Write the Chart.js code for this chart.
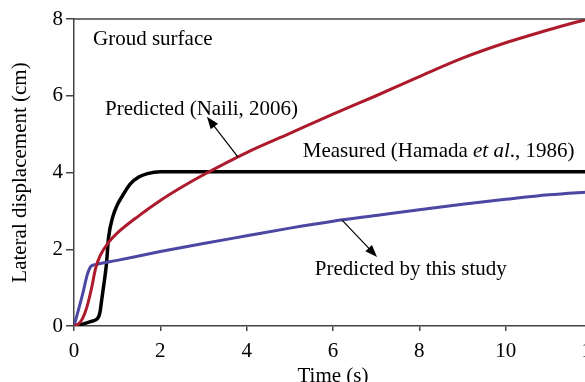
<!DOCTYPE html>
<html>
<head>
<meta charset="utf-8">
<script src="https://cdn.jsdelivr.net/npm/chart.js@4.4.1/dist/chart.umd.min.js"></script>
<style>
  html, body { margin: 0; padding: 0; background: #fff; overflow: hidden; }
  #wrap { width: 585px; height: 382px; overflow: hidden; position: relative; }
  canvas { display: block; }
</style>
</head>
<body>
<div id="wrap"><canvas id="c" width="640" height="390"></canvas></div>
<script>
/* ── DATA ─────────────────────────────────────────────────────────────── */
const measuredT = [0, 0.2, 0.4, 0.55, 0.6, 0.65, 0.7, 0.75, 0.8, 0.9, 1.0, 1.1, 1.3, 1.5, 1.7, 2.0, 4, 6, 8, 10, 12];
const measuredY = [0, 0.05, 0.12, 0.2, 0.35, 0.75, 1.15, 1.6, 2.3, 2.85, 3.15, 3.35, 3.7, 3.88, 3.97, 4.02, 4.02, 4.02, 4.02, 4.02, 4.02];

const nailiT = [0, 0.1, 0.2, 0.3, 0.4, 0.5, 0.6, 0.8, 1.0, 1.5, 2.0, 2.5, 3.0, 4, 5, 6, 7, 8, 9, 10, 11, 12];
const nailiY = [0, 0.05, 0.2, 0.5, 0.95, 1.5, 1.82, 2.18, 2.42, 2.87, 3.27, 3.62, 3.94, 4.52, 5.02, 5.52, 6.0, 6.5, 6.98, 7.38, 7.72, 8.03];

const studyT = [0, 0.2, 0.31, 0.39, 0.5, 1, 2, 3, 4, 5, 6, 7, 8, 9, 10, 11, 12];
const studyY = [0, 0.83, 1.35, 1.55, 1.6, 1.71, 1.94, 2.15, 2.35, 2.55, 2.73, 2.88, 3.03, 3.17, 3.3, 3.42, 3.5];

const xTicks = [0, 2, 4, 6, 8, 10, 12];
const yTicks = [0, 2, 4, 6, 8];

/* ── STYLE ────────────────────────────────────────────────────────────── */
const FONT = '"Liberation Serif", "Times New Roman", serif';
const FONT_SIZE = 21;
const AXIS_COLOR = "#444444";
const COLORS = { measured: "#000000", naili: "#ad1a2c", study: "#4b47a3" };

function pts(ts, ys) {
  return ts.map(function (t, i) { return { x: t, y: ys[i] }; });
}

/* ── ANNOTATIONS (data coordinates) ───────────────────────────────────── */
const NOTES = [
  { text: [["Groud surface", false]], x: 0.44, y: 7.32 },
  { text: [["Predicted (Naili, 2006)", false]], x: 0.72, y: 5.5 },
  { text: [["Measured (Hamada ", false], ["et al", true], ["., 1986)", false]], x: 5.3, y: 4.4 },
  { text: [["Predicted by this study", false]], x: 5.58, y: 1.33 },
];
const ARROWS = [
  { from: [3.80, 4.40], to: [3.08, 5.45] },
  { from: [6.21, 2.76], to: [7.02, 1.80] },
];

const annotationPlugin = {
  id: "notes",
  afterDraw(chart) {
    const { ctx, chartArea, scales: { x, y } } = chart;
    ctx.save();

    /* top frame line */
    ctx.strokeStyle = AXIS_COLOR;
    ctx.lineWidth = 1.5;
    ctx.beginPath();
    ctx.moveTo(chartArea.left, chartArea.top);
    ctx.lineTo(chartArea.right, chartArea.top);
    ctx.stroke();

    /* labels */
    ctx.fillStyle = "#000";
    ctx.textBaseline = "alphabetic";
    NOTES.forEach(function (n) {
      let px = x.getPixelForValue(n.x);
      const py = y.getPixelForValue(n.y);
      n.text.forEach(function (part) {
        ctx.font = (part[1] ? "italic " : "") + FONT_SIZE + "px " + FONT;
        ctx.fillText(part[0], px, py);
        px += ctx.measureText(part[0]).width;
      });
    });

    /* arrows */
    ctx.strokeStyle = "#000";
    ctx.fillStyle = "#000";
    ctx.lineWidth = 1.2;
    ARROWS.forEach(function (a) {
      const x0 = x.getPixelForValue(a.from[0]), y0 = y.getPixelForValue(a.from[1]);
      const x1 = x.getPixelForValue(a.to[0]), y1 = y.getPixelForValue(a.to[1]);
      const ang = Math.atan2(y1 - y0, x1 - x0);
      const len = 13, half = 0.36;
      ctx.beginPath();
      ctx.moveTo(x0, y0);
      ctx.lineTo(x1 - Math.cos(ang) * len * 0.8, y1 - Math.sin(ang) * len * 0.8);
      ctx.stroke();
      ctx.beginPath();
      ctx.moveTo(x1, y1);
      ctx.lineTo(x1 - len * Math.cos(ang - half), y1 - len * Math.sin(ang - half));
      ctx.lineTo(x1 - len * Math.cos(ang + half), y1 - len * Math.sin(ang + half));
      ctx.closePath();
      ctx.fill();
    });
    ctx.restore();
  },
};

/* ── CHART ────────────────────────────────────────────────────────────── */
const lineDefaults = {
  pointRadius: 0,
  fill: false,
  cubicInterpolationMode: "monotone",
  borderCapStyle: "round",
  borderJoinStyle: "round",
};
const tickFont = { family: FONT, size: FONT_SIZE };

new Chart(document.getElementById("c"), {
  type: "line",
  data: {
    datasets: [
      Object.assign({ label: "Predicted (Naili, 2006)", data: pts(nailiT, nailiY), borderColor: COLORS.naili, borderWidth: 3 }, lineDefaults),
      Object.assign({ label: "Predicted by this study", data: pts(studyT, studyY), borderColor: COLORS.study, borderWidth: 3 }, lineDefaults),
      Object.assign({ label: "Measured (Hamada et al., 1986)", data: pts(measuredT, measuredY), borderColor: COLORS.measured, borderWidth: 3.5 }, lineDefaults),
    ],
  },
  options: {
    responsive: false,
    animation: false,
    layout: { padding: { top: 19, right: 48, left: 0, bottom: 0 } },
    plugins: { legend: { display: false }, tooltip: { enabled: false } },
    scales: {
      x: {
        type: "linear",
        min: 0,
        max: 12,
        afterFit(s) { s.height = 64; },
        afterBuildTicks(s) { s.ticks = xTicks.map(function (v) { return { value: v }; }); },
        grid: { drawOnChartArea: false, drawTicks: true, tickLength: 5, color: AXIS_COLOR, lineWidth: 1.5 },
        border: { color: AXIS_COLOR, width: 1.5 },
        ticks: { color: "#000", font: tickFont, padding: 8, maxRotation: 0 },
        title: { display: true, text: "Time (s)", color: "#000", font: tickFont, padding: { top: 0, bottom: 1 } },
      },
      y: {
        type: "linear",
        min: 0,
        max: 8,
        afterFit(s) { s.width = 74; },
        afterBuildTicks(s) { s.ticks = yTicks.map(function (v) { return { value: v }; }); },
        grid: { drawOnChartArea: false, drawTicks: true, tickLength: 8, color: AXIS_COLOR, lineWidth: 1.5 },
        border: { color: AXIS_COLOR, width: 1.5 },
        ticks: { color: "#000", font: tickFont, padding: 3 },
        title: { display: true, text: "Lateral displacement (cm)", color: "#000", font: tickFont, padding: { top: 8, bottom: 0 } },
      },
    },
  },
  plugins: [annotationPlugin],
});
</script>
</body>
</html>
